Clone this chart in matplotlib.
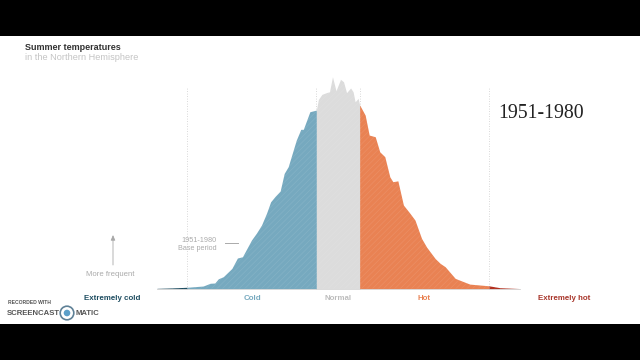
import numpy as np
import matplotlib
matplotlib.use("Agg")
import matplotlib.pyplot as plt
from matplotlib.patches import Rectangle, Circle

plt.rcParams["font.family"] = ["Liberation Sans", "DejaVu Sans"]
plt.rcParams["hatch.linewidth"] = 0.5

# anomaly in standard deviations, frequency as percent of the peak
anomaly = np.array([-3.60, -3.30, -3.00, -2.68, -2.54, -2.45, -2.38, -2.28, -2.11, -2.00, -1.90, -1.72, -1.62,
                    -1.52, -1.42, -1.34, -1.25, -1.15, -1.07, -0.99, -0.83, -0.74, -0.69, -0.56, -0.46, -0.43,
                    -0.39, -0.32, -0.22, -0.17, -0.11, -0.04, 0.05, 0.11, 0.17, 0.25, 0.30, 0.34, 0.40, 0.43,
                    0.54, 0.62, 0.74, 0.83, 0.93, 1.03, 1.09, 1.19, 1.30, 1.43, 1.53, 1.66, 1.76, 1.93, 2.03, 2.13,
                    2.33, 2.49, 2.62, 3.00, 3.22, 3.62])
frequency = np.array([0.1, 0.3, 0.6, 1.2, 2.5, 2.6, 4.6, 5.6, 9.5, 14.4, 15.0, 22.9, 26.2,
                      30.0, 35.6, 40.9, 43.5, 46.0, 54.3, 57.5, 70.0, 75.1, 75.1, 83.4, 84.0, 84.2,
                      89.2, 91.6, 92.5, 92.8, 99.9, 93.3, 98.7, 97.5, 92.4, 94.6, 92.8, 88.1, 89.7, 86.6,
                      81.8, 72.4, 71.6, 64.5, 62.2, 52.7, 50.4, 50.8, 39.4, 35.5, 32.3, 23.7, 19.6, 14.2, 11.9, 10.3,
                      4.8, 3.3, 2.1, 1.3, 0.4, 0.0])

band_edges = [-3.60, -3.00, -0.43, 0.43, 3.00, 3.62]
band_colors = ["#1d4c60", "#76a9bf", "#dcdcdc", "#e98253", "#b2301f"]
band_labels = ["Extremely cold", "Cold", "Normal", "Hot", "Extremely hot"]
label_colors = ["#1d4c60", "#76a9bf", "#bdbdbd", "#e98253", "#a8352a"]
label_x = [112, 252, 338, 424, 564]
dotted_at = [-3.00, -0.43, 0.43, 3.00]

fig = plt.figure(figsize=(6.4, 3.6), dpi=100, facecolor="white")
ax = fig.add_axes([0, 0, 1, 1])
ax.set_xlim(-6.72, 6.004)
ax.set_ylim(-33.7, 136.1)
ax.axis("off")


def fx(px):
    return px / 640


def fy(py):
    return 1 - py / 360


for i in range(5):
    mask = (anomaly >= band_edges[i]) & (anomaly <= band_edges[i + 1])
    ax.fill_between(anomaly[mask], 0, frequency[mask], color=band_colors[i], lw=0, zorder=2)
    ax.fill_between(anomaly[mask], 0, frequency[mask], facecolor="none", edgecolor="#ffffff", alpha=0.1,
                    hatch="//////", lw=0, zorder=3)

ax.plot([-3.6, 3.62], [0, 0], color="#d5d5d5", lw=0.6, zorder=1)
ax.vlines(dotted_at, 0, 95, color="#cccccc", lw=0.6, linestyles=(0, (1, 2)), zorder=1)

# black bands of the screen recording
for y0 in (0, 324 / 360):
    fig.add_artist(Rectangle((0, y0), 1, 36 / 360, transform=fig.transFigure, color="black", lw=0))

fig.text(fx(25), fy(47), "Summer temperatures", fontsize=6.5, fontweight="bold", color="#333333", va="center")
fig.text(fx(25), fy(58), "in the Northern Hemisphere", fontsize=6.6, color="#c4c4c4", va="center")
fig.text(fx(498), fy(113), "1951-1980", fontsize=14.3, color="#222222", va="center",
         family=["Liberation Serif", "DejaVu Serif"])

fig.text(fx(217), fy(240), "1951-1980", fontsize=5.2, color="#aaaaaa", ha="right", va="center")
fig.text(fx(217), fy(249), "Base period", fontsize=5.2, color="#aaaaaa", ha="right", va="center")
fig.add_artist(plt.Line2D([fx(225), fx(238)], [fy(243), fy(243)], color="#aaaaaa", lw=0.7))

fig.text(fx(110), fy(274), "More frequent", fontsize=5.6, color="#aaaaaa", ha="center", va="center")
ax.annotate("", xy=(fx(113), fy(235)), xytext=(fx(113), fy(265)), xycoords="figure fraction",
            textcoords="figure fraction",
            arrowprops=dict(arrowstyle="-|>,head_width=0.13,head_length=0.3", color="#a8a8a8", lw=0.6,
                            shrinkA=0, shrinkB=0))

for lab, col, px in zip(band_labels, label_colors, label_x):
    fig.text(fx(px), fy(298), lab, fontsize=5.7, fontweight="bold", color=col, ha="center", va="center")

# watermark
fig.text(fx(8), fy(303), "RECORDED WITH", fontsize=3.6, fontweight="bold", color="#555555", va="center")
fig.text(fx(7), fy(313.5), "SCREENCAST", fontsize=5.6, fontweight="bold", color="#555555", va="center")
fig.text(fx(76), fy(313.5), "MATIC", fontsize=5.6, fontweight="bold", color="#555555", va="center")
fig.add_artist(Circle((67, 360 - 313), 6.8, transform=None, facecolor="white", edgecolor="#5f8197", lw=1.2))
fig.add_artist(Circle((67, 360 - 313), 3.3, transform=None, facecolor="#5b9fc9", edgecolor="none"))

fig.savefig("out.png", dpi=100)
